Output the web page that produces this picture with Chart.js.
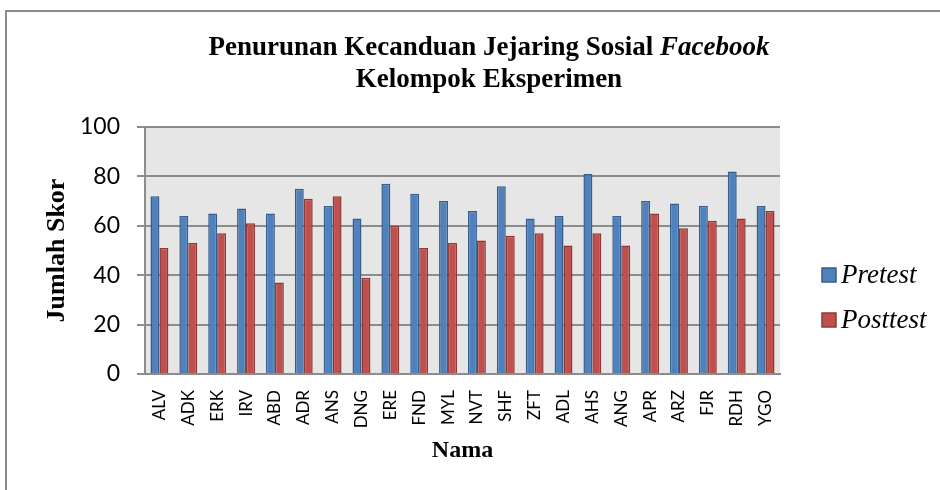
<!DOCTYPE html>
<html>
<head>
<meta charset="utf-8">
<script src="https://cdn.jsdelivr.net/npm/chart.js@4.4.0/dist/chart.umd.min.js"></script>
<style>
    html, body { margin: 0; padding: 0; background: #fff; }
    #wrap { position: relative; width: 940px; height: 490px; overflow: hidden; }
    #frame { position: absolute; left: 5px; top: 10px; width: 1000px; height: 600px; border: 2px solid #8c8c8c; box-sizing: border-box; }
    #myChart { position: absolute; left: 0; top: 0; }
</style>
</head>
<body>
<div id="wrap">
    <div id="frame"></div>
    <canvas id="myChart" width="940" height="490"></canvas>
</div>
<script>
// data
var labels = ['ALV', 'ADK', 'ERK', 'IRV', 'ABD', 'ADR', 'ANS', 'DNG', 'ERE', 'FND', 'MYL',
              'NVT', 'SHF', 'ZFT', 'ADL', 'AHS', 'ANG', 'APR', 'ARZ', 'FJR', 'RDH', 'YGO'];
var pretest = [72, 64, 65, 67, 65, 75, 68, 63, 77, 73, 70, 66, 76, 63, 64, 81, 64, 70, 69, 68, 82, 68];
var posttest = [51, 53, 57, 61, 37, 71, 72, 39, 60, 51, 53, 54, 56, 57, 52, 57, 52, 65, 59, 62, 63, 66];
var yTicks = [0, 20, 40, 60, 80, 100];
var seriesNames = ['Pretest', 'Posttest'];
var titleMain = 'Penurunan Kecanduan Jejaring Sosial ';
var titleItalic = 'Facebook';
var titleLine2 = 'Kelompok Eksperimen';

document.addEventListener('DOMContentLoaded', () => {

    load_chart()

    function load_chart() {
        var ctx = document.getElementById('myChart').getContext('2d');
        var serif = '"Liberation Serif", "Times New Roman", serif';
        var sans = 'Lato, "Open Sans", sans-serif';

        // grey plot background
        var plotBg = {
            id: 'plotBg',
            beforeDraw: function (chart) {
                var a = chart.chartArea, c = chart.ctx;
                c.save();
                c.fillStyle = '#e6e6e6';
                c.fillRect(a.left, a.top, a.right - a.left, a.bottom - a.top);
                c.restore();
            }
        };

        // two line title, "Facebook" in italic
        var titlePlugin = {
            id: 'mixedTitle',
            afterDraw: function (chart) {
                var c = chart.ctx;
                var cx = 489;
                var bold = 'bold 27px ' + serif;
                var boldItalic = 'italic bold 27px ' + serif;
                c.save();
                c.fillStyle = '#000';
                c.textBaseline = 'middle';
                c.font = bold;
                var w1 = c.measureText(titleMain).width;
                c.font = boldItalic;
                var w2 = c.measureText(titleItalic).width;
                var x = cx - (w1 + w2) / 2;
                c.textAlign = 'left';
                c.font = bold;
                c.fillText(titleMain, x, 48);
                c.font = boldItalic;
                c.fillText(titleItalic, x + w1, 48);
                c.textAlign = 'center';
                c.font = bold;
                c.fillText(titleLine2, cx, 80);
                c.restore();
            }
        };

        // legend on the right
        var legendPlugin = {
            id: 'sideLegend',
            afterDraw: function (chart) {
                var c = chart.ctx;
                c.save();
                chart.data.datasets.forEach(function (ds, i) {
                    var y = 275 + i * 45;
                    c.fillStyle = ds.backgroundColor;
                    c.strokeStyle = ds.borderColor;
                    c.lineWidth = 1.5;
                    c.fillRect(822, y - 7, 14, 14);
                    c.strokeRect(822, y - 7, 14, 14);
                    c.fillStyle = '#000';
                    c.font = 'italic 27px ' + serif;
                    c.textBaseline = 'middle';
                    c.textAlign = 'left';
                    c.fillText(ds.label, 841, y + 1);
                });
                c.restore();
            }
        };

        var data = {
            labels: labels,
            datasets: [{
                label: seriesNames[0],
                data: pretest,
                backgroundColor: '#4f81bd',
                borderColor: '#385d8a',
                borderWidth: 1.5,
                categoryPercentage: 0.62,
                barPercentage: 1.0
            }, {
                label: seriesNames[1],
                data: posttest,
                backgroundColor: '#c0504d',
                borderColor: '#8c3836',
                borderWidth: 1.5,
                categoryPercentage: 0.62,
                barPercentage: 1.0
            }]
        };

        var config = {
            type: 'bar',
            data: data,
            options: {
                responsive: false,
                animation: false,
                layout: {
                    padding: { top: 127, right: 160, bottom: 0, left: 0 }
                },
                scales: {
                    x: {
                        grid: { display: false },
                        border: { color: '#8c8c8c', width: 2 },
                        ticks: {
                            color: '#000',
                            minRotation: 90,
                            maxRotation: 90,
                            autoSkip: false,
                            padding: 8,
                            font: { family: sans, size: 17 }
                        },
                        title: {
                            display: true,
                            text: 'Nama',
                            color: '#000',
                            padding: { top: 0, bottom: 25 },
                            font: { family: serif, size: 24, weight: 'bold' }
                        },
                        afterFit: function (scale) { scale.height = 116; }
                    },
                    y: {
                        min: 0,
                        max: 100,
                        afterBuildTicks: function (scale) {
                            scale.ticks = yTicks.map(function (v) { return { value: v }; });
                        },
                        grid: { color: '#8c8c8c', lineWidth: 2, tickLength: 8 },
                        border: { color: '#8c8c8c', width: 2 },
                        ticks: {
                            color: '#000',
                            padding: 17,
                            font: { family: sans, size: 23 }
                        },
                        title: {
                            display: true,
                            text: 'Jumlah Skor',
                            color: '#000',
                            padding: { top: 42, bottom: 0 },
                            font: { family: serif, size: 26, weight: 'bold' }
                        },
                        afterFit: function (scale) { scale.width = 145; }
                    }
                },
                plugins: {
                    legend: { display: false },
                    title: { display: false },
                    tooltip: { enabled: false }
                }
            },
            plugins: [plotBg, titlePlugin, legendPlugin]
        };

        var myChart = new Chart(ctx, config);
    }

});
</script>
</body>
</html>
